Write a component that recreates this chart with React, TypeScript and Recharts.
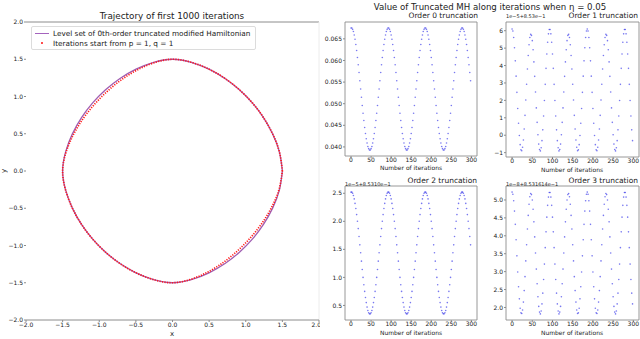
import { ReferenceArea, ReferenceLine, Scatter, ScatterChart, XAxis, YAxis } from "recharts";

const FONT = "'DejaVu Sans', sans-serif";
const GRAY = "#8c8c8c";
const TEXT = "#222";
const PURPLE = "#8e3fa3";
const RED = "#ff1a1a";
const BLUE = "#2f2fe8";

// ---- left panel: level set + iterates ----
const LEVEL_X = [
  1.5, 1.459, 1.367, 1.242, 1.09, 0.914, 0.717, 0.498, 0.257, 0, -0.257, -0.498, -0.717, -0.914, -1.09, -1.242, -1.367,
  -1.459, -1.5, -1.459, -1.367, -1.242, -1.09, -0.914, -0.717, -0.498, -0.257, 0, 0.257, 0.498, 0.717, 0.914, 1.09,
  1.242, 1.367, 1.459, 1.5,
];
const LEVEL_Y = [
  0, 0.257, 0.498, 0.717, 0.914, 1.09, 1.242, 1.367, 1.459, 1.5, 1.459, 1.367, 1.242, 1.09, 0.914, 0.717, 0.498, 0.257,
  0, -0.257, -0.498, -0.717, -0.914, -1.09, -1.242, -1.367, -1.459, -1.5, -1.459, -1.367, -1.242, -1.09, -0.914, -0.717,
  -0.498, -0.257, 0,
];
const ITERATE_X = [
  1.5, 1.459, 1.367, 1.242, 1.09, 0.914, 0.717, 0.498, 0.257, 0, -0.256, -0.492, -0.704, -0.894, -1.066, -1.22, -1.351,
  -1.452, -1.5, -1.459, -1.367, -1.242, -1.09, -0.914, -0.717, -0.498, -0.257, 0, 0.256, 0.492, 0.704, 0.894, 1.066,
  1.22, 1.351, 1.452, 1.5,
];
const ITERATE_Y = [
  0, 0.257, 0.498, 0.717, 0.914, 1.09, 1.242, 1.367, 1.459, 1.5, 1.452, 1.351, 1.22, 1.066, 0.894, 0.704, 0.492, 0.256,
  0, -0.257, -0.498, -0.717, -0.914, -1.09, -1.242, -1.367, -1.459, -1.5, -1.452, -1.351, -1.22, -1.066, -0.894, -0.704,
  -0.492, -0.256, 0,
];
const MAIN_TICKS = [-2, -1.5, -1, -0.5, 0, 0.5, 1, 1.5, 2];

// ---- right panels: truncated MH value, every 2nd iteration ----
const ITERATIONS = [
  0, 2, 4, 6, 8, 10, 12, 14, 16, 18, 20, 22, 24, 26, 28, 30, 32, 34, 36, 38, 40, 42, 44, 46, 48,
  50, 52, 54, 56, 58, 60, 62, 64, 66, 68, 70, 72, 74, 76, 78, 80, 82, 84, 86, 88, 90, 92, 94, 96, 98,
  100, 102, 104, 106, 108, 110, 112, 114, 116, 118, 120, 122, 124, 126, 128, 130, 132, 134, 136, 138, 140, 142, 144, 146, 148,
  150, 152, 154, 156, 158, 160, 162, 164, 166, 168, 170, 172, 174, 176, 178, 180, 182, 184, 186, 188, 190, 192, 194, 196, 198,
  200, 202, 204, 206, 208, 210, 212, 214, 216, 218, 220, 222, 224, 226, 228, 230, 232, 234, 236, 238, 240, 242, 244, 246, 248,
  250, 252, 254, 256, 258, 260, 262, 264, 266, 268, 270, 272, 274, 276, 278, 280, 282, 284, 286, 288, 290, 292, 294, 296, 298,
];

const ORDER0 = [
  0.0675, 0.0675, 0.0672, 0.0667, 0.0659, 0.0649, 0.0637, 0.0623, 0.0607, 0.059, 0.0572, 0.0553, 0.0534, 0.0515, 0.0496, 0.0478,
  0.0461, 0.0445, 0.0431, 0.0419, 0.0409, 0.0401, 0.0396, 0.0393, 0.0393, 0.0396, 0.0401, 0.0409, 0.0419, 0.0431, 0.0445, 0.0461,
  0.0478, 0.0496, 0.0515, 0.0534, 0.0553, 0.0572, 0.059, 0.0607, 0.0623, 0.0637, 0.0649, 0.0659, 0.0667, 0.0672,
  0.0675, 0.0675, 0.0672, 0.0667, 0.0659, 0.0649, 0.0637, 0.0623, 0.0607, 0.059, 0.0572, 0.0553, 0.0534, 0.0515, 0.0496, 0.0478,
  0.0461, 0.0445, 0.0431, 0.0419, 0.0409, 0.0401, 0.0396, 0.0393, 0.0393, 0.0396, 0.0401, 0.0409, 0.0419, 0.0431, 0.0445, 0.0461,
  0.0478, 0.0496, 0.0515, 0.0534, 0.0553, 0.0572, 0.059, 0.0607, 0.0623, 0.0637, 0.0649, 0.0659, 0.0667, 0.0672,
  0.0675, 0.0675, 0.0672, 0.0667, 0.0659, 0.0649, 0.0637, 0.0623, 0.0607, 0.059, 0.0572, 0.0553, 0.0534, 0.0515, 0.0496, 0.0478,
  0.0461, 0.0445, 0.0431, 0.0419, 0.0409, 0.0401, 0.0396, 0.0393, 0.0393, 0.0396, 0.0401, 0.0409, 0.0419, 0.0431, 0.0445, 0.0461,
  0.0478, 0.0496, 0.0515, 0.0534, 0.0553, 0.0572, 0.059, 0.0607, 0.0623, 0.0637, 0.0649, 0.0659, 0.0667, 0.0672,
  0.0675, 0.0675, 0.0672, 0.0667, 0.0659, 0.0649, 0.0637, 0.0623, 0.0607, 0.059, 0.0572, 0.0553,
];

// order 1: offset 1e-5 + 8.53e-1
const ORDER1 = [
  6.1, 5.98, 5.61, 5.02, 4.27, 3.39, 2.46, 1.53, 0.69, -0.02, -0.54, -0.84, -0.89, -0.69, -0.27, 0.36, 1.14, 2.02, 2.93, 3.8,
  4.58, 5.19, 5.61, 5.79, 5.73, 5.43, 4.91, 4.21, 3.38, 2.48, 1.57, 0.74, 0.03, -0.51, -0.82, -0.9, -0.72, -0.31, 0.31, 1.1,
  1.99, 2.92, 3.84, 4.66, 5.34, 5.82, 6.07,
  6.07, 5.82, 5.34, 4.66, 3.84, 2.92, 1.99, 1.1, 0.31, -0.31, -0.72, -0.9, -0.82, -0.51, 0.03, 0.74, 1.57, 2.48, 3.38, 4.21,
  4.91, 5.43, 5.73, 5.79, 5.61, 5.19, 4.58, 3.8, 2.93, 2.02, 1.14, 0.36, -0.27, -0.69, -0.89, -0.84, -0.54, -0.02, 0.69, 1.53,
  2.46, 3.39, 4.27, 5.02, 5.61, 5.98, 6.1,
  5.98, 5.61, 5.02, 4.27, 3.39, 2.46, 1.53, 0.69, -0.02, -0.54, -0.84, -0.89, -0.69, -0.27, 0.36, 1.14, 2.02, 2.93, 3.8, 4.58,
  5.19, 5.61, 5.79, 5.73, 5.43, 4.91, 4.21, 3.38, 2.48, 1.57, 0.74, 0.03, -0.51, -0.82, -0.9, -0.72, -0.31, 0.31, 1.1, 1.99,
  2.92, 3.84, 4.66, 5.34, 5.82, 6.07, 6.07, 5.82, 5.34, 4.66, 3.84, 2.92, 1.99, 1.1, 0.31, -0.31,
];

// order 2: offset 1e-5 + 8.5310e-1
const ORDER2 = [
  2.52, 2.52, 2.5, 2.46, 2.4, 2.32, 2.23, 2.12, 2.0, 1.87, 1.73, 1.58, 1.44, 1.29, 1.14, 1.0, 0.87, 0.75, 0.64, 0.55, 0.47,
  0.41, 0.37, 0.35, 0.35, 0.37, 0.41, 0.47, 0.55, 0.64, 0.75, 0.87, 1.0, 1.14, 1.29, 1.44, 1.58, 1.73, 1.87, 2.0, 2.12,
  2.23, 2.32, 2.4, 2.46, 2.5,
  2.52, 2.52, 2.5, 2.46, 2.4, 2.32, 2.23, 2.12, 2.0, 1.87, 1.73, 1.58, 1.44, 1.29, 1.14, 1.0, 0.87, 0.75, 0.64, 0.55, 0.47,
  0.41, 0.37, 0.35, 0.35, 0.37, 0.41, 0.47, 0.55, 0.64, 0.75, 0.87, 1.0, 1.14, 1.29, 1.44, 1.58, 1.73, 1.87, 2.0, 2.12,
  2.23, 2.32, 2.4, 2.46, 2.5,
  2.52, 2.52, 2.5, 2.46, 2.4, 2.32, 2.23, 2.12, 2.0, 1.87, 1.73, 1.58, 1.44, 1.29, 1.14, 1.0, 0.87, 0.75, 0.64, 0.55, 0.47,
  0.41, 0.37, 0.35, 0.35, 0.37, 0.41, 0.47, 0.55, 0.64, 0.75, 0.87, 1.0, 1.14, 1.29, 1.44, 1.58, 1.73, 1.87, 2.0, 2.12,
  2.23, 2.32, 2.4, 2.46, 2.5,
  2.52, 2.52, 2.5, 2.46, 2.4, 2.32, 2.23, 2.12, 2.0, 1.87, 1.73, 1.58,
];

// order 3: offset 1e-8 + 8.531614e-1
const ORDER3 = [
  5.22, 5.16, 4.98, 4.69, 4.32, 3.89, 3.44, 2.99, 2.58, 2.24, 1.98, 1.85, 1.83, 1.93, 2.15, 2.47, 2.86, 3.3, 3.75, 4.19,
  4.57, 4.88, 5.09, 5.18, 5.15, 5.0, 4.74, 4.39, 3.97, 3.52, 3.07, 2.66, 2.3, 2.03, 1.87, 1.82, 1.9, 2.1, 2.4, 2.78,
  3.21, 3.67, 4.11, 4.52, 4.85, 5.08, 5.21,
  5.21, 5.08, 4.85, 4.52, 4.11, 3.67, 3.21, 2.78, 2.4, 2.1, 1.9, 1.82, 1.87, 2.03, 2.3, 2.66, 3.07, 3.52, 3.97, 4.39,
  4.74, 5.0, 5.15, 5.18, 5.09, 4.88, 4.57, 4.19, 3.75, 3.3, 2.86, 2.47, 2.15, 1.93, 1.83, 1.85, 1.98, 2.24, 2.58, 2.99,
  3.44, 3.89, 4.32, 4.69, 4.98, 5.16, 5.22,
  5.16, 4.98, 4.69, 4.32, 3.89, 3.44, 2.99, 2.58, 2.24, 1.98, 1.85, 1.83, 1.93, 2.15, 2.47, 2.86, 3.3, 3.75, 4.19, 4.57,
  4.88, 5.09, 5.18, 5.15, 5.0, 4.74, 4.39, 3.97, 3.52, 3.07, 2.66, 2.3, 2.03, 1.87, 1.82, 1.9, 2.1, 2.4, 2.78, 3.21,
  3.67, 4.11, 4.52, 4.85, 5.08, 5.21, 5.21, 5.08, 4.85, 4.52, 4.11, 3.67, 3.21, 2.78, 2.4, 2.1,
];

const ITER_TICKS = [0, 50, 100, 150, 200, 250, 300];
const ITER_DOMAIN: [number, number] = [-15, 314];

const minus = (s: string) => s.replace("-", "\u2212");
const fmt1 = (v: number) => minus(v.toFixed(1));

const toPoints = (xs: number[], ys: number[]) => xs.map((x, i) => ({ x, y: ys[i] }));

const tickStyle = { fontSize: 6, fill: TEXT, fontFamily: FONT };

const NoDot = () => <g />;
const BlueDot = (props: any) => (
  <circle cx={props.cx} cy={props.cy} r={0.8} fill={BLUE} fillOpacity={0.65} />
);

function Caption({
  x,
  y,
  size,
  anchor = "middle",
  rotate,
  children,
}: {
  x: number;
  y: number;
  size: number;
  anchor?: "start" | "middle" | "end";
  rotate?: number;
  children: React.ReactNode;
}) {
  const tx = anchor === "middle" ? "-50%" : anchor === "end" ? "-100%" : "0";
  return (
    <div
      style={{
        position: "absolute",
        left: x,
        top: y,
        fontSize: size,
        lineHeight: 1,
        whiteSpace: "nowrap",
        color: TEXT,
        transform: `translate(${tx}, -50%)${rotate ? ` rotate(${rotate}deg)` : ""}`,
      }}
    >
      {children}
    </div>
  );
}

interface PanelProps {
  left: number;
  top: number;
  height: number;
  marginTop: number;
  marginRight: number;
  yWidth: number;
  xHeight: number;
  values: number[];
  yDomain: [number, number];
  yTicks: number[];
  yFormat: (v: number) => string;
}

function TruncationPanel({
  left,
  top,
  height,
  marginTop,
  marginRight,
  yWidth,
  xHeight,
  values,
  yDomain,
  yTicks,
  yFormat,
}: PanelProps) {
  return (
    <div style={{ position: "absolute", left, top }}>
      <ScatterChart
        width={180}
        height={height}
        margin={{ top: marginTop, right: marginRight, bottom: 0, left: 0 }}
      >
        <XAxis
          type="number"
          dataKey="x"
          domain={ITER_DOMAIN}
          ticks={ITER_TICKS}
          allowDataOverflow
          height={xHeight}
          tickSize={2}
          tickMargin={0}
          tick={tickStyle}
          stroke={GRAY}
          axisLine={false}
        />
        <YAxis
          type="number"
          dataKey="y"
          domain={yDomain}
          ticks={yTicks}
          tickFormatter={yFormat}
          allowDataOverflow
          width={yWidth}
          tickSize={2}
          tickMargin={1}
          tick={tickStyle}
          stroke={GRAY}
          axisLine={false}
        />
        <ReferenceArea
          x1={ITER_DOMAIN[0]}
          x2={ITER_DOMAIN[1]}
          y1={yDomain[0]}
          y2={yDomain[1]}
          fill="none"
          stroke={GRAY}
          strokeWidth={0.9}
          ifOverflow="visible"
        />
        <Scatter
          data={toPoints(ITERATIONS, values)}
          shape={BlueDot}
          isAnimationActive={false}
        />
      </ScatterChart>
    </div>
  );
}

export default function App() {
  return (
    <div
      style={{
        position: "absolute",
        left: 0,
        top: 0,
        width: 640,
        height: 339,
        background: "#fff",
        fontFamily: FONT,
        overflow: "hidden",
      }}
    >
      {/* left: trajectory */}
      <div style={{ position: "absolute", left: 0, top: 0 }}>
        <ScatterChart
          width={320}
          height={339}
          margin={{ top: 22, right: 1, bottom: 0, left: 0 }}
        >
          <XAxis
            type="number"
            dataKey="x"
            domain={[-2, 2]}
            ticks={MAIN_TICKS}
            tickFormatter={fmt1}
            allowDataOverflow
            height={19}
            tickSize={2}
            tickMargin={1}
            tick={tickStyle}
            stroke={GRAY}
          />
          <YAxis
            type="number"
            dataKey="y"
            domain={[-2, 2]}
            ticks={MAIN_TICKS}
            tickFormatter={fmt1}
            allowDataOverflow
            width={26}
            tickSize={2}
            tickMargin={1}
            tick={tickStyle}
            stroke={GRAY}
            axisLine={false}
          />
          <ReferenceLine y={2} stroke={GRAY} ifOverflow="visible" />
          <ReferenceLine x={2} stroke="#ececec" ifOverflow="visible" />
          <Scatter
            data={toPoints(LEVEL_X, LEVEL_Y)}
            line={{ stroke: PURPLE, strokeWidth: 1.3, strokeOpacity: 0.85 }}
            lineJointType="natural"
            shape={NoDot}
            isAnimationActive={false}
          />
          <Scatter
            data={toPoints(ITERATE_X, ITERATE_Y)}
            line={{ stroke: RED, strokeWidth: 1.7, strokeDasharray: "1.2 1.3" }}
            lineJointType="natural"
            shape={NoDot}
            isAnimationActive={false}
          />
        </ScatterChart>
      </div>

      {/* legend */}
      <div
        style={{
          position: "absolute",
          left: 31,
          top: 26,
          width: 223,
          height: 22,
          border: "1px solid #dcdcdc",
          borderRadius: 2,
          background: "rgba(255,255,255,0.85)",
        }}
      >
        <div style={{ position: "absolute", left: 3, top: 6, width: 14, height: 1.3, background: "#a463bd" }} />
        <div style={{ position: "absolute", left: 9, top: 15.3, width: 1.8, height: 1.8, borderRadius: "50%", background: RED }} />
        <Caption x={21} y={6.7} size={7.3} anchor="start">
          Level set of 0th-order truncated modified Hamiltonian
        </Caption>
        <Caption x={21} y={16.5} size={7.3} anchor="start">
          Iterations start from p = 1, q = 1
        </Caption>
      </div>

      <Caption x={172} y={15.5} size={8.8}>
        Trajectory of first 1000 iterations
      </Caption>
      <Caption x={172} y={333.5} size={7}>
        x
      </Caption>
      <Caption x={4} y={171} size={7} rotate={-90}>
        y
      </Caption>

      {/* right: four truncation panels */}
      <TruncationPanel
        left={300}
        top={0}
        height={172}
        marginTop={22}
        marginRight={3}
        yWidth={45}
        xHeight={16}
        values={ORDER0}
        yDomain={[0.0379, 0.0689]}
        yTicks={[0.04, 0.045, 0.05, 0.055, 0.06, 0.065]}
        yFormat={(v) => v.toFixed(3)}
      />
      <TruncationPanel
        left={460}
        top={0}
        height={173}
        marginTop={22}
        marginRight={1}
        yWidth={46}
        xHeight={16}
        values={ORDER1}
        yDomain={[-1.25, 6.5]}
        yTicks={[-1, 0, 1, 2, 3, 4, 5, 6]}
        yFormat={(v) => minus(String(v))}
      />
      <TruncationPanel
        left={300}
        top={170}
        height={169}
        marginTop={16}
        marginRight={3}
        yWidth={45}
        xHeight={19}
        values={ORDER2}
        yDomain={[0.24, 2.63]}
        yTicks={[0.5, 1, 1.5, 2, 2.5]}
        yFormat={fmt1}
      />
      <TruncationPanel
        left={460}
        top={170}
        height={169}
        marginTop={16}
        marginRight={1}
        yWidth={46}
        xHeight={19}
        values={ORDER3}
        yDomain={[1.65, 5.39]}
        yTicks={[2, 2.5, 3, 3.5, 4, 4.5, 5]}
        yFormat={fmt1}
      />

      <Caption x={490} y={7} size={8.6}>
        Value of Truncated MH along iterations when η = 0.05
      </Caption>
      <Caption x={478} y={16} size={7.5} anchor="end">
        Order 0 truncation
      </Caption>
      <Caption x={638} y={16} size={7.5} anchor="end">
        Order 1 truncation
      </Caption>
      <Caption x={477} y={181} size={7.5} anchor="end">
        Order 2 truncation
      </Caption>
      <Caption x={638} y={181} size={7.5} anchor="end">
        Order 3 truncation
      </Caption>
      <Caption x={506} y={16} size={5} anchor="start">
        1e−5+8.53e−1
      </Caption>
      <Caption x={345} y={183.5} size={5} anchor="start">
        1e−5+8.5310e−1
      </Caption>
      <Caption x={506} y={183.5} size={5} anchor="start">
        1e−8+8.531614e−1
      </Caption>
      <Caption x={411} y={167.5} size={6}>
        Number of iterations
      </Caption>
      <Caption x={572} y={169.5} size={6}>
        Number of iterations
      </Caption>
      <Caption x={411} y={333} size={6}>
        Number of iterations
      </Caption>
      <Caption x={572} y={333} size={6}>
        Number of iterations
      </Caption>
    </div>
  );
}
